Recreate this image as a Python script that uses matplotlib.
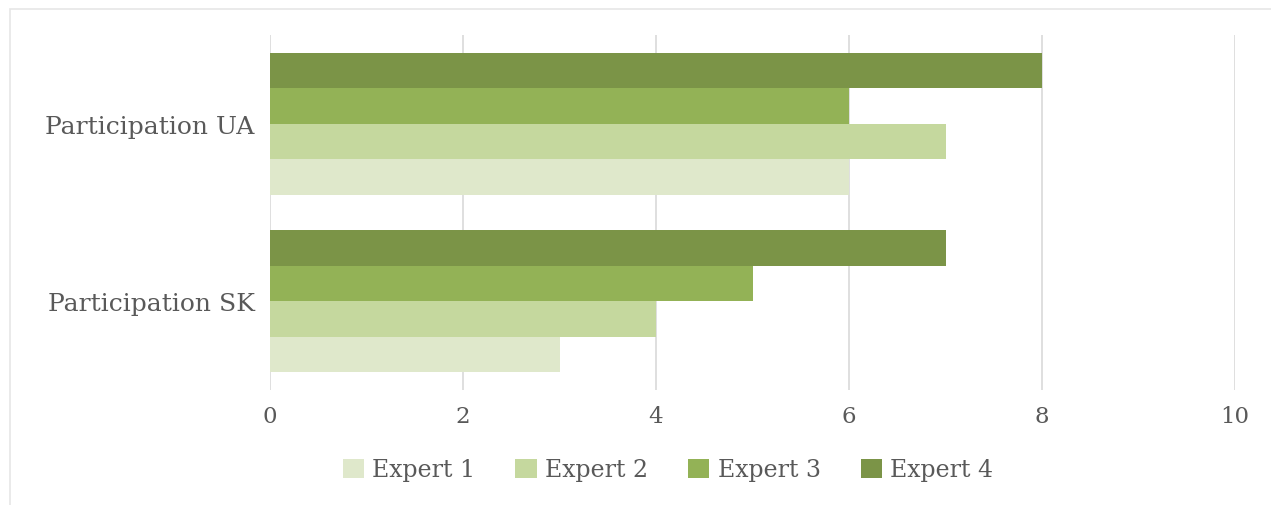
import matplotlib
matplotlib.use("Agg")
import matplotlib.pyplot as plt
from matplotlib.patches import Rectangle
import numpy as np

categories = ["Participation SK", "Participation UA"]
series_names = ["Expert 1", "Expert 2", "Expert 3", "Expert 4"]
expert1 = [3, 6]
expert2 = [4, 7]
expert3 = [5, 6]
expert4 = [7, 8]
series_values = [expert1, expert2, expert3, expert4]
colors = ["#DFE8CB", "#C5D89E", "#93B256", "#7B9447"]
x_ticks = [0, 2, 4, 6, 8, 10]

plt.rcParams['font.family'] = ['DejaVu Serif']
text_color = "#595959"

fig = plt.figure(figsize=(12.71, 5.06), dpi=100)
fig.patches.append(Rectangle((10/1271, -0.1), 1.2, (1 - 10/506) + 0.1,
                             transform=fig.transFigure, fill=False,
                             edgecolor="#E6E6E6", linewidth=1.2))
ax = fig.add_axes([270/1271, 1 - 391/506, (1235 - 270)/1271, (391 - 36)/506])

y = np.arange(len(categories))
h = 0.2
for i, (name, vals, c) in enumerate(zip(series_names, series_values, colors)):
    ax.barh(y - 0.3 + i * h, vals, height=h, color=c, label=name,
            edgecolor="none", zorder=3)

ax.set_xlim(0, 10)
ax.set_ylim(-0.5, 1.5)
ax.set_xticks(x_ticks)
ax.set_yticks(y)
ax.set_yticklabels(categories)
ax.grid(axis='x', color="#D9D9D9", linewidth=1.2, zorder=0)
for s in ax.spines.values():
    s.set_visible(False)
ax.tick_params(axis='both', length=0, colors=text_color)
ax.tick_params(axis='x', pad=11, labelsize=16.5)
ax.tick_params(axis='y', pad=11, labelsize=18)

leg = fig.legend(loc='center', bbox_to_anchor=(668/1271, 1 - 471/506), ncol=4,
                 frameon=False, fontsize=17, handlelength=0.9, handleheight=0.85,
                 handletextpad=0.35, columnspacing=1.7)
for t in leg.get_texts():
    t.set_color(text_color)

fig.savefig("out.png", dpi=100)
